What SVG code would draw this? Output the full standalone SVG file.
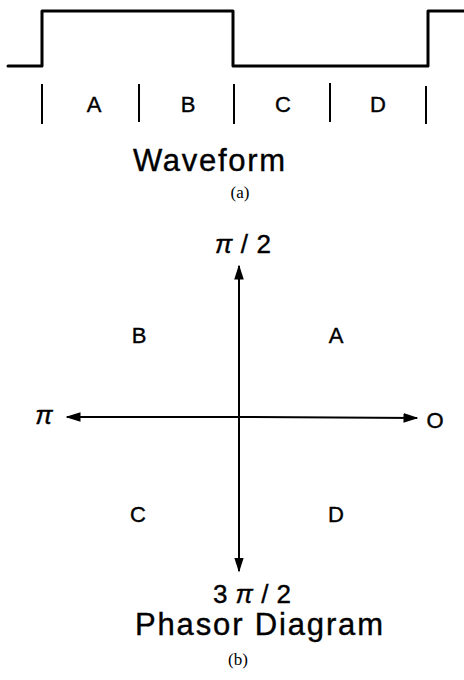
<svg xmlns="http://www.w3.org/2000/svg" width="464" height="680" viewBox="0 0 464 680">
<style>
.wave{fill:none;stroke:#000;stroke-width:3;stroke-linejoin:round;stroke-linecap:round}
.tick{stroke:#000;stroke-width:2}
.axis{stroke:#000;stroke-width:2;fill:none}
.lbl{font-family:"Liberation Sans",Arial,sans-serif;fill:#000;stroke:#000;stroke-width:0.4;text-anchor:middle}
.pi{font-style:italic}
.cap{font-family:"Liberation Serif","Times New Roman",serif;fill:#000;text-anchor:middle}
</style>
<defs>
<marker id="arr" viewBox="0 0 10 10" refX="9" refY="5" markerWidth="7.5" markerHeight="7.5" markerUnits="strokeWidth" orient="auto">
<path d="M0,1.8 L10,5 L0,8.2 Z" fill="#000"/>
</marker>
</defs>
<rect width="464" height="680" fill="#fff"/>
<g id="waveform">
<path class="wave" d="M8,66 H42 V11 H233 V66 H428 V11 H464"/>
<line class="tick" x1="42" y1="84" x2="42" y2="124"/>
<line class="tick" x1="139" y1="84" x2="139" y2="122"/>
<line class="tick" x1="234" y1="84" x2="234" y2="124"/>
<line class="tick" x1="330" y1="83" x2="330" y2="122"/>
<line class="tick" x1="426" y1="86" x2="426" y2="124"/>
<text class="lbl" x="94" y="112" font-size="22">A</text>
<text class="lbl" x="188" y="112" font-size="22">B</text>
<text class="lbl" x="283" y="112" font-size="22">C</text>
<text class="lbl" x="378" y="112" font-size="22">D</text>
<text class="lbl" x="209" y="171" font-size="31" textLength="152" lengthAdjust="spacing">Waveform</text>
<text class="cap" x="240" y="198" font-size="17">(a)</text>
</g>
<g id="connectors">
<line class="axis" x1="239" y1="417" x2="239" y2="266" marker-end="url(#arr)"/>
<line class="axis" x1="239" y1="417" x2="239" y2="571" marker-end="url(#arr)"/>
<line class="axis" x1="239" y1="417" x2="67" y2="417" marker-end="url(#arr)"/>
<line class="axis" x1="239" y1="417" x2="417" y2="418" marker-end="url(#arr)"/>
</g>
<g id="phasor-labels">
<text class="lbl" x="243" y="253" font-size="26" textLength="56" lengthAdjust="spacing"><tspan class="pi">π</tspan>/2</text>
<text class="lbl pi" x="44" y="424" font-size="26">π</text>
<text class="lbl" x="435" y="428" font-size="22">O</text>
<text class="lbl" x="139" y="343" font-size="22">B</text>
<text class="lbl" x="336" y="343" font-size="22">A</text>
<text class="lbl" x="138" y="522" font-size="22">C</text>
<text class="lbl" x="336" y="522" font-size="22">D</text>
<text class="lbl" x="252" y="603" font-size="26" textLength="78" lengthAdjust="spacing">3<tspan class="pi">π</tspan>/2</text>
<text class="lbl" x="259" y="635" font-size="31" textLength="248" lengthAdjust="spacing">Phasor Diagram</text>
<text class="cap" x="238" y="665" font-size="17">(b)</text>
</g>
</svg>
